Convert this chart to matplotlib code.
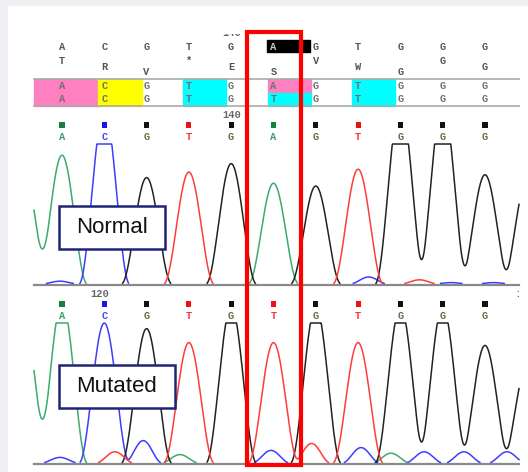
import numpy as np
import matplotlib
matplotlib.use("Agg")
import matplotlib.pyplot as plt
from matplotlib.patches import Rectangle

# ---------------------------------------------------------------------------
# Data
# ---------------------------------------------------------------------------
positions = list(range(11))

read_top = ['A', 'C', 'G', 'T', 'G', 'A', 'G', 'T', 'G', 'G', 'G']
frame_aa = ['T', 'R', 'V', '*', 'E', 'S', 'V', 'W', 'G', 'G', 'G']
align_ref = ['A', 'C', 'G', 'T', 'G', 'A', 'G', 'T', 'G', 'G', 'G']
align_mut = ['A', 'C', 'G', 'T', 'G', 'T', 'G', 'T', 'G', 'G', 'G']
shade_ref = ['pink', 'yellow', None, 'cyan', None, 'pink', None, 'cyan', None, None, None]
shade_mut = ['pink', 'yellow', None, 'cyan', None, 'cyan', None, 'cyan', None, None, None]

calls_normal = ['A', 'C', 'G', 'T', 'G', 'A', 'G', 'T', 'G', 'G', 'G']
heights_normal = [0.92, 1.25, 0.76, 0.80, 0.86, 0.72, 0.70, 0.82, 1.30, 1.30, 0.78]
calls_mutated = ['A', 'C', 'G', 'T', 'G', 'T', 'G', 'T', 'G', 'G', 'G']
heights_mutated = [1.15, 1.00, 0.96, 0.86, 1.12, 0.86, 1.12, 0.86, 1.12, 1.12, 0.84]

# peaks just outside the window (position, base, height)
edge_normal = [(-0.9, 'A', 0.8), (11.0, 'G', 0.75)]
edge_mutated = [(-0.9, 'A', 1.0), (11.0, 'G', 0.70)]

# small background peaks (position, base, height)
minor_normal = [(-0.05, 'C', 0.02), (7.25, 'C', 0.05), (8.45, 'T', 0.03),
                (9.2, 'C', 0.01), (10.2, 'C', 0.01)]
minor_mutated = [(-0.05, 'C', 0.04), (1.25, 'T', 0.08), (1.92, 'C', 0.16),
                 (2.79, 'A', 0.06), (4.94, 'C', 0.09), (5.9, 'T', 0.14),
                 (7.07, 'C', 0.11), (7.78, 'A', 0.07), (8.56, 'C', 0.08),
                 (9.5, 'C', 0.08), (10.52, 'C', 0.08)]

pos_labels = [(4, '140'), (4, '140'), (0.9, '120'), (10.95, '130')]
mutation_pos = 5

# ---------------------------------------------------------------------------
# Styles
# ---------------------------------------------------------------------------
trace_colors = {'A': '#3daa6e', 'C': '#3d3dff', 'G': '#222222', 'T': '#ff3c3c'}
label_colors = {'A': '#3c9c6c', 'C': '#4848e8', 'G': '#75654a', 'T': '#ff3333'}
square_colors = {'A': '#16803c', 'C': '#1515ee', 'G': '#111111', 'T': '#ee1111'}
shade_colors = {'pink': '#ff80c0', 'yellow': '#ffff00', 'cyan': '#00ffff'}

W, H = 528, 472
X0, DX = 62, 42.3          # pixel of first base, spacing between bases
XL, XR = -0.662, 10.804    # trace window in base units
MONO = dict(family='Liberation Mono', fontweight='bold', fontsize=7.5)


def px(xpix):
    return (xpix - X0) / DX


def peak(x, c, h, w=0.6):
    d = np.abs(x - c)
    return np.where(d < w, h * np.cos(np.pi * d / (2 * w)) ** 2, 0.0)


def draw_trace(fig, top, base, calls, heights, edges, minors):
    axt = fig.add_axes([0, 1 - base / H, 1, (base - top) / H])
    axt.set_xlim(px(0), px(W))
    axt.set_ylim(0, 1)
    axt.axis('off')
    axt.patch.set_alpha(0)
    x = np.linspace(XL, XR, 1500)
    axt.plot([XL, XR], [-0.004, -0.004], color='#8a8a8a', lw=1.6, zorder=1, clip_on=False)
    for b in ['A', 'C', 'G', 'T']:
        sig = np.zeros_like(x)
        for p, c, h in zip(positions, calls, heights):
            if c == b:
                sig += peak(x, p, h)
        for p, c, h in edges:
            if c == b:
                sig += peak(x, p, h)
        for p, c, h in minors:
            if c == b:
                sig += peak(x, p, h, 0.45)
        sig = np.minimum(sig, 1.0)
        sig = np.where(sig > 0.004, sig, np.nan)
        axt.plot(x, sig, color=trace_colors[b], lw=1.1, zorder=2, clip_on=False)
    return axt


fig = plt.figure(figsize=(W / 100, H / 100), dpi=100, facecolor='#eef0f3')
fig.patches.append(Rectangle((8 / W, 0), 1, (H - 6) / H, transform=fig.transFigure,
                             facecolor='white', edgecolor='none', zorder=-1))

draw_trace(fig, 144, 284, calls_normal, heights_normal, edge_normal, minor_normal)
draw_trace(fig, 323, 463, calls_mutated, heights_mutated, edge_mutated, minor_mutated)

ax = fig.add_axes([0, 0, 1, 1])
ax.set_xlim(px(0), px(W))
ax.set_ylim(H, 0)
ax.axis('off')
ax.patch.set_alpha(0)

# --- top: read letters and translation frames
for i, b in zip(positions, read_top):
    if i == mutation_pos:
        ax.add_patch(Rectangle((i - 0.15, 40), 1.02, 12, color='black', zorder=3))
        ax.text(i, 46.5, b, color='#c8c8c8', ha='center', va='center', zorder=4, **MONO)
    else:
        ax.text(i, 47, b, color='#555555', ha='center', va='center', **MONO)
frame_y = [61, 67, 72]
for i, aa in zip(positions, frame_aa):
    ax.text(i, frame_y[i % 3], aa, color='#555555', ha='center', va='center', **MONO)

# --- alignment block
for row, (letters, shades, y0) in enumerate([(align_ref, shade_ref, 79),
                                             (align_mut, shade_mut, 92.5)]):
    for i, (b, s) in enumerate(zip(letters, shades)):
        if s:
            left = XL if i == 0 else i - 0.14
            ax.add_patch(Rectangle((left, y0), i + 0.88 - left, 13.5,
                                   color=shade_colors[s], zorder=1))
        ax.text(i, y0 + 7, b, color='#707070', ha='center', va='center', zorder=2, **MONO)
for y in [79, 106]:
    ax.plot([XL, XR], [y, y], color='#aaaaaa', lw=1.2, zorder=2)

# --- position numbers (the top one and the right one are cut off)
clip_top = Rectangle((px(0), 33.5), W, H, transform=ax.transData)
clip_right = Rectangle((px(0), 0), XR - px(0), H, transform=ax.transData)
t = ax.text(pos_labels[0][0], 38, pos_labels[0][1], color='#666666', ha='center',
            va='bottom', **MONO)
t.set_clip_path(clip_top)
t.set_clip_on(True)
ax.text(pos_labels[1][0], 115, pos_labels[1][1], color='#666666', ha='center', va='center', **MONO)
ax.text(pos_labels[2][0], 294, pos_labels[2][1], color='#666666', ha='center', va='center', **MONO)
t = ax.text(pos_labels[3][0], 294, pos_labels[3][1], color='#666666', ha='center',
            va='center', **MONO)
t.set_clip_path(clip_right)
t.set_clip_on(True)

# --- base call squares and letters
for calls, ysq, ylet in [(calls_normal, 125, 137), (calls_mutated, 304, 316)]:
    ax.scatter(positions, [ysq] * len(positions), marker='s', s=14,
               c=[square_colors[b] for b in calls], linewidths=0)
    for i, b in zip(positions, calls):
        ax.text(i, ylet, b, color=label_colors[b], ha='center', va='center', **MONO)

# --- labels
for label, y0, x1 in [('Normal', 206, 165), ('Mutated', 365, 175)]:
    ax.add_patch(Rectangle((px(59), y0), px(x1) - px(59), 43, facecolor='white',
                           edgecolor='#1f2478', lw=1.8, zorder=5))
    ax.text((px(59) + px(x1)) / 2, y0 + 21.5, label, family='Liberation Sans',
            fontsize=16, color='#111111', ha='center', va='center', zorder=6)

# --- red box around the mutated position
ax.add_patch(Rectangle((mutation_pos - 0.63, 32), 1.28, 433, fill=False,
                       edgecolor='#ff0000', lw=3, zorder=8))

fig.savefig('out.png', dpi=100, facecolor=fig.get_facecolor())
